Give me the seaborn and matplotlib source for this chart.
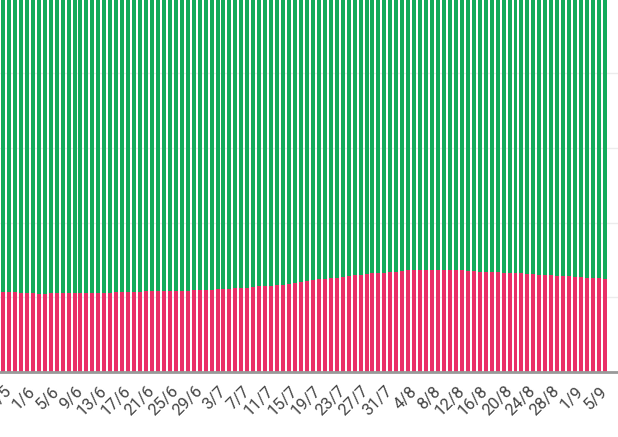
import pandas as pd
import matplotlib.pyplot as plt
import seaborn as sns

# daily share (%) - pink part at the bottom, green fills up to 100
days = pd.date_range("2020-05-27", "2020-09-05", freq="D")
day_labels = [f"{d.day}/{d.month}" for d in days]
pink_share = [
    21.5, 21.5, 21.4, 21.2, 21.1, 21.1, 21.0, 21.0, 21.1, 21.1,
    21.1, 21.2, 21.2, 21.1, 21.2, 21.2, 21.2, 21.1, 21.2, 21.3,
    21.3, 21.4, 21.4, 21.5, 21.6, 21.6, 21.6, 21.7, 21.7, 21.7,
    21.8, 21.8, 21.9, 21.9, 22.0, 22.0, 22.1, 22.2, 22.3, 22.4,
    22.5, 22.6, 22.7, 22.9, 23.0, 23.1, 23.3, 23.4, 23.6, 23.8,
    24.1, 24.4, 24.6, 24.8, 24.9, 25.1, 25.3, 25.5, 25.7, 25.9,
    26.1, 26.2, 26.4, 26.5, 26.6, 26.8, 26.9, 27.0, 27.2, 27.3,
    27.3, 27.3, 27.3, 27.3, 27.3, 27.3, 27.2, 27.2, 27.1, 27.0,
    26.9, 26.9, 26.8, 26.7, 26.6, 26.5, 26.4, 26.4, 26.3, 26.2,
    26.1, 26.0, 25.9, 25.8, 25.7, 25.6, 25.5, 25.4, 25.3, 25.2,
    25.1, 24.9,
]
green_share = [100 - p for p in pink_share]

df = pd.DataFrame({"day": day_labels, "pink": pink_share, "green": green_share})
df["total"] = df["pink"] + df["green"]

PINK = "#ea2f68"
GREEN = "#12ab5b"

sns.set_style("white")
plt.rcParams["font.family"] = ["Roboto", "DejaVu Sans"]

fig = plt.figure(figsize=(6.18, 4.37), dpi=100)
ax = fig.add_axes([0, 0.1487, 1, 0.8547])

sns.barplot(data=df, x="day", y="total", color=GREEN, saturation=1, width=0.67,
            linewidth=0, ax=ax)
sns.barplot(data=df, x="day", y="pink", color=PINK, saturation=1, width=0.67,
            linewidth=0, ax=ax)

ax.set_xlim(-0.503, 103.2)
ax.set_ylim(0, 100)
ax.set_yticks([0, 20, 40, 60, 80, 100])
ax.yaxis.grid(True, color="#ececec", linewidth=1)
ax.set_axisbelow(True)
ax.tick_params(axis="y", left=False, labelleft=False)

for side in ["top", "left", "right"]:
    ax.spines[side].set_visible(False)
ax.spines["bottom"].set_color("#999999")
ax.spines["bottom"].set_linewidth(2)
ax.set_xlabel("")
ax.set_ylabel("")

tick_pos = list(range(1, len(day_labels), 4))
ax.set_xticks(tick_pos, [day_labels[i] for i in tick_pos])
ax.tick_params(axis="x", length=0, pad=12, labelcolor="#444444")
plt.setp(ax.get_xticklabels(), rotation=45, ha="right", va="center",
         rotation_mode="anchor", fontsize=12)

fig.savefig("out.png", dpi=100)
